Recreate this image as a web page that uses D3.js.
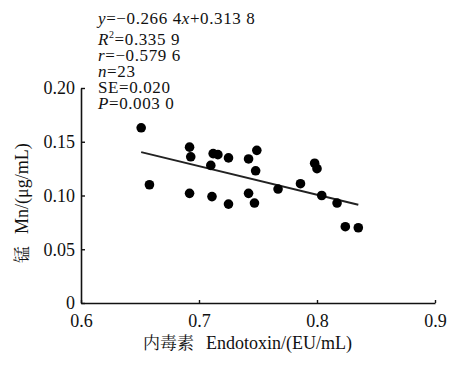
<!DOCTYPE html>
<html>
<head>
<meta charset="utf-8">
<script src="https://cdn.jsdelivr.net/npm/d3@7"></script>
<style>
  html, body { margin:0; padding:0; background:#fff; }
</style>
</head>
<body>
<div class="canvas"></div>
<script>
// data: endotoxin (EU/mL) vs manganese (ug/mL)
const endotoxin = [0.651, 0.692, 0.693, 0.658, 0.692, 0.712, 0.716, 0.710, 0.725, 0.711, 0.725, 0.742,
                   0.749, 0.748, 0.742, 0.747, 0.767, 0.786, 0.798, 0.800, 0.804, 0.817, 0.824, 0.835];
const manganese = [0.163, 0.145, 0.136, 0.110, 0.102, 0.139, 0.138, 0.128, 0.135, 0.099, 0.092, 0.134,
                   0.142, 0.123, 0.102, 0.093, 0.106, 0.111, 0.130, 0.125, 0.100, 0.093, 0.071, 0.070];

// fitted line y = slope*x + intercept
const slope = -0.2664;
const intercept = 0.3138;

const xTicks = [0.6, 0.7, 0.8, 0.9];
const yTicks = [0, 0.05, 0.10, 0.15, 0.20];
const xTickLabels = ['0.6', '0.7', '0.8', '0.9'];
const yTickLabels = ['0', '0.05', '0.10', '0.15', '0.20'];

// titles: chinese part + english part
const xTitle = ['内毒素', 'Endotoxin/(EU/mL)'];
const yTitle = ['锰', 'Mn/(μg/mL)'];

const serif = "'Liberation Serif'";
const cjkSerif = "'Noto Serif CJK SC'";

const margin = { top:88, right:36, bottom:70, left:81 }; // room for stats text and axis labels

const width = 471, height = 373;
const graphWidth = width - margin.left - margin.right;
const graphHeight = height - margin.top - margin.bottom;

const svg = d3.select('.canvas')
              .append('svg')
              .attr('width', width)
              .attr('height', height);

svg.append('rect').attr('width', width).attr('height', height).attr('fill', '#fff');

const graph = svg.append('g')
                 .attr('transform', `translate(${margin.left}, ${margin.top})`);

// scales
const x = d3.scaleLinear().domain([0.6, 0.9]).range([0, graphWidth]);
const y = d3.scaleLinear().domain([0, 0.2]).range([graphHeight, 0]);

// axes, ticks pointing inward
const xAxis = d3.axisBottom(x)
                .tickValues(xTicks)
                .tickFormat((d, i) => xTickLabels[i])
                .tickSizeInner(-3)
                .tickSizeOuter(0)
                .tickPadding(11);
const yAxis = d3.axisLeft(y)
                .tickValues(yTicks)
                .tickFormat((d, i) => yTickLabels[i])
                .tickSizeInner(-4)
                .tickSizeOuter(0)
                .tickPadding(6);

const xAxisGroup = graph.append('g')
                        .attr('transform', `translate(0, ${graphHeight})`)
                        .call(xAxis);
const yAxisGroup = graph.append('g').call(yAxis);

[xAxisGroup, yAxisGroup].forEach(g => {
  g.attr('font-family', null);
  g.select('.domain').attr('stroke', '#111').attr('stroke-width', 1.6);
  g.selectAll('.tick line').attr('stroke', '#111').attr('stroke-width', 1.4);
  g.selectAll('text').attr('font-size', 18).attr('fill', '#111')
   .style('font-family', serif);
});

// regression line over the data range
const line = d3.line()
               .x(d => x(d))
               .y(d => y(slope * d + intercept));

graph.append('path')
     .datum(d3.extent(endotoxin))
     .attr('fill', 'none')
     .attr('stroke', '#222')
     .attr('stroke-width', 2)
     .attr('d', line);

// points
const points = endotoxin.map((e, i) => ({ e: e, m: manganese[i] }));
graph.selectAll('circle')
     .data(points)
     .enter()
     .append('circle')
     .attr('cx', d => x(d.e))
     .attr('cy', d => y(d.m))
     .attr('r', 4.8)
     .attr('fill', '#000');

// axis titles
const addTitle = (parent, parts) => {
  const t = parent.append('text').attr('fill', '#111');
  t.append('tspan').style('font-family', cjkSerif).attr('font-size', 17).text(parts[0]);
  t.append('tspan').style('font-family', serif).attr('font-size', 18).attr('dx', 12).text(parts[1]);
  return t;
};

addTitle(svg, xTitle)
  .attr('x', 143)
  .attr('y', 349);

addTitle(svg, yTitle)
  .attr('transform', 'translate(28, 263) rotate(-90)');

// stats block, each line is a list of [text, italic, superscript]
const statLines = [
  [['y', 1], ['=−0.266 4', 0], ['x', 1], ['+0.313 8', 0]],
  [['R', 1], ['2', 0, 1], ['=0.335 9', 0]],
  [['r', 1], ['=−0.579 6', 0]],
  [['n', 1], ['=23', 0]],
  [['SE=0.020', 0]],
  [['P', 1], ['=0.003 0', 0]]
];
const statBaselines = [24, 45, 61, 77, 93, 109];

const stats = svg.append('g');
statLines.forEach((parts, i) => {
  const t = stats.append('text')
                 .attr('x', 98)
                 .attr('y', statBaselines[i])
                 .attr('font-size', 17)
                 .attr('fill', '#111')
                 .style('font-family', serif)
                 .style('letter-spacing', '0.6px')
                 .style('white-space', 'pre');
  parts.forEach(p => {
    const ts = t.append('tspan').text(p[0]);
    if (p[1]) ts.attr('font-style', 'italic');
    if (p[2]) ts.attr('font-size', 10).attr('dy', -7);
    else if (parts.some(q => q[2]) && p === parts[parts.length - 1]) ts.attr('dy', 7);
  });
});
</script>
</body>
</html>
